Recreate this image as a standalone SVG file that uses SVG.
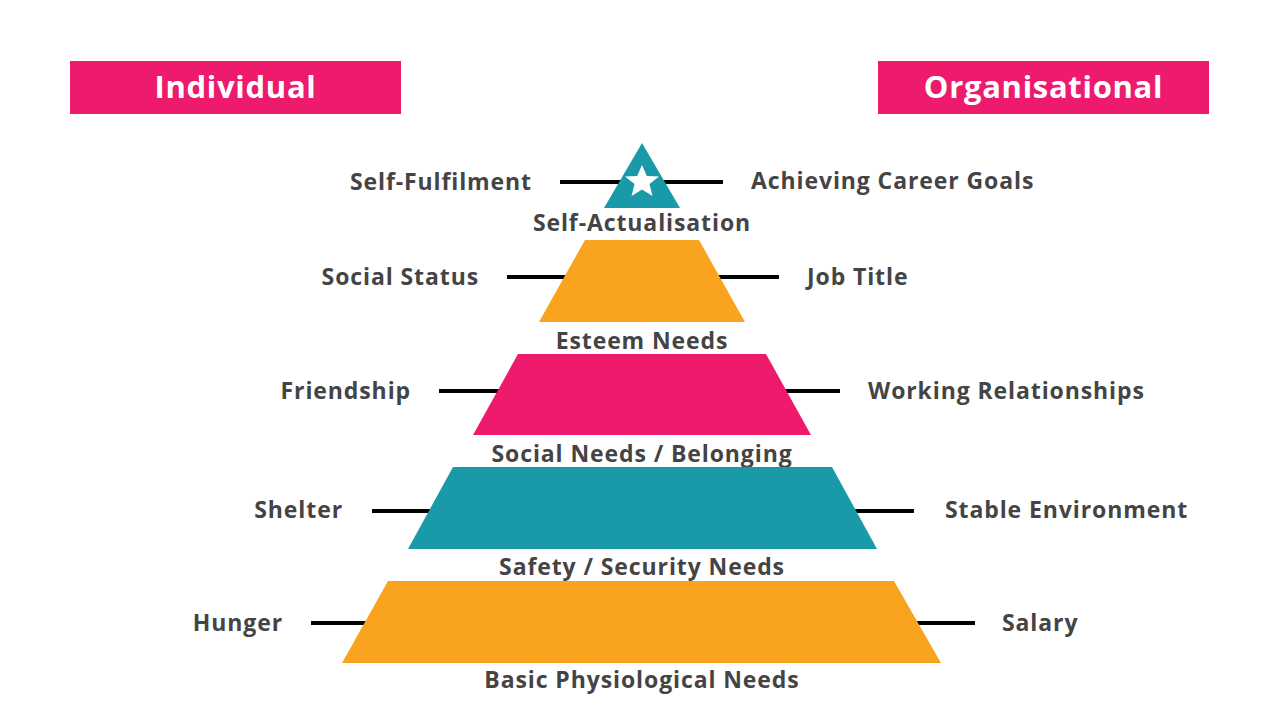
<svg xmlns="http://www.w3.org/2000/svg" width="1280" height="720" viewBox="0 0 1280 720">
<style>
.lbl{font-family:"Open Sans","Liberation Sans",sans-serif;font-weight:700;font-size:23px;letter-spacing:0.9px;fill:#444}
.hdr{font-family:"Open Sans","Liberation Sans",sans-serif;font-weight:700;font-size:31px;letter-spacing:0.7px;fill:#fff}
.ln{stroke:#000;stroke-width:4}
.pink{fill:#ED1A6E}.orange{fill:#F9A31E}.teal{fill:#1A99A9}
</style>
<rect width="1280" height="720" fill="#fff"/>
<g id="header-individual"><rect class="pink" x="70" y="61" width="331" height="53"/><text class="hdr" x="235.5" y="98" text-anchor="middle">Individual</text></g>
<g id="header-organisational"><rect class="pink" x="878" y="61" width="331" height="53"/><text class="hdr" x="1043.5" y="98" text-anchor="middle">Organisational</text></g>
<g id="connectors">
<line class="ln" x1="560" y1="182" x2="723" y2="182"/>
<line class="ln" x1="507" y1="277" x2="779" y2="277"/>
<line class="ln" x1="439" y1="391" x2="840" y2="391"/>
<line class="ln" x1="372" y1="511" x2="914" y2="511"/>
<line class="ln" x1="311" y1="623" x2="975" y2="623"/>
</g>
<g id="self-actualisation">
<polygon class="teal" points="642,143 680,208 604,208"/>
<polygon fill="#fff" points="642,165 646.8,176 659,176.5 649.5,184 652.5,196 642,189.5 631.5,196 634.5,184 625,176.5 637.2,176"/>
<text class="lbl" x="642" y="231" text-anchor="middle">Self-Actualisation</text>
</g>
<g id="esteem"><polygon class="orange" points="585,240 699,240 745,322 539,322"/><text class="lbl" x="642" y="349" text-anchor="middle">Esteem Needs</text></g>
<g id="social"><polygon class="pink" points="518,354 766,354 811,435 473,435"/><text class="lbl" x="642" y="462" text-anchor="middle">Social Needs / Belonging</text></g>
<g id="safety"><polygon class="teal" points="453,467 832,467 877,549 408,549"/><text class="lbl" x="642" y="575" text-anchor="middle">Safety / Security Needs</text></g>
<g id="basic"><polygon class="orange" points="388,581 894,581 941,663 342,663"/><text class="lbl" x="642" y="688" text-anchor="middle">Basic Physiological Needs</text></g>
<g id="left-labels">
<text class="lbl" x="532" y="190" text-anchor="end">Self-Fulfilment</text>
<text class="lbl" x="479" y="285" text-anchor="end">Social Status</text>
<text class="lbl" x="411" y="399" text-anchor="end">Friendship</text>
<text class="lbl" x="343" y="518" text-anchor="end">Shelter</text>
<text class="lbl" x="283" y="631" text-anchor="end">Hunger</text>
</g>
<g id="right-labels">
<text class="lbl" x="751" y="189">Achieving Career Goals</text>
<text class="lbl" x="807" y="285">Job Title</text>
<text class="lbl" x="868" y="399">Working Relationships</text>
<text class="lbl" x="945" y="518">Stable Environment</text>
<text class="lbl" x="1002" y="631">Salary</text>
</g>
</svg>
